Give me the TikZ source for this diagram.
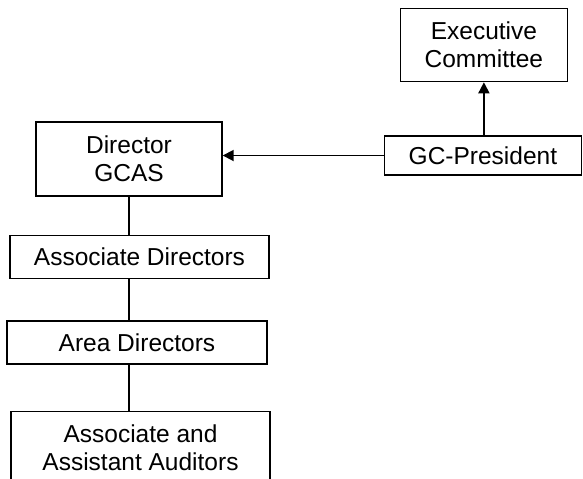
\documentclass[tikz,border=0pt]{standalone}
\usepackage{fontspec}
\setmainfont{Liberation Sans}
\usetikzlibrary{positioning,arrows.meta}

\begin{document}
\begin{tikzpicture}[x=0.5pt, y=-0.5pt, node distance=20pt,
    orgbox/.style={draw, rectangle, line width=0.7pt, inner sep=0pt, align=center,
        font=\fontsize{12.25}{14}\selectfont},
    link/.style={line width=0.7pt},
    arrowlink/.style={line width=0.9pt, -{Triangle[length=5.5pt, width=5.5pt]}}]
    \clip (0,0) rectangle (583,478);
    % Director chain
    \node[orgbox, minimum width=93pt, minimum height=37pt] (dir) at (129,159) {Director\\GCAS};
    \node[orgbox, minimum width=129.5pt, minimum height=21.5pt, below=19pt of dir, xshift=5.25pt] (assoc) {Associate Directors};
    \node[orgbox, minimum width=130pt, minimum height=21.5pt, below=20.5pt of assoc, xshift=-1.25pt] (area) {Area Directors};
    \node[orgbox, minimum width=129.5pt, minimum height=37pt, below=23pt of area, xshift=1.75pt] (aud) {Associate and\\Assistant Auditors};

    % President and committee
    \node[orgbox, minimum width=98.5pt, minimum height=19.5pt, right=80.5pt of dir, yshift=1.75pt] (pres) {GC-President};
    \node[orgbox, minimum width=83.5pt, minimum height=36.5pt, above=26.5pt of pres, xshift=0.5pt] (exec) {Executive\\Committee};

    \draw[arrowlink] (pres.north -| exec.south) -- (exec.south);
    \draw[arrowlink] (pres.west) -- (pres.west -| dir.east);
    \draw[link] (dir.south) -- (dir.south |- assoc.north);
    \draw[link] (assoc.south -| dir.south) -- (area.north -| dir.south);
    \draw[link] (area.south -| dir.south) -- (aud.north -| dir.south);
\end{tikzpicture}
\end{document}
